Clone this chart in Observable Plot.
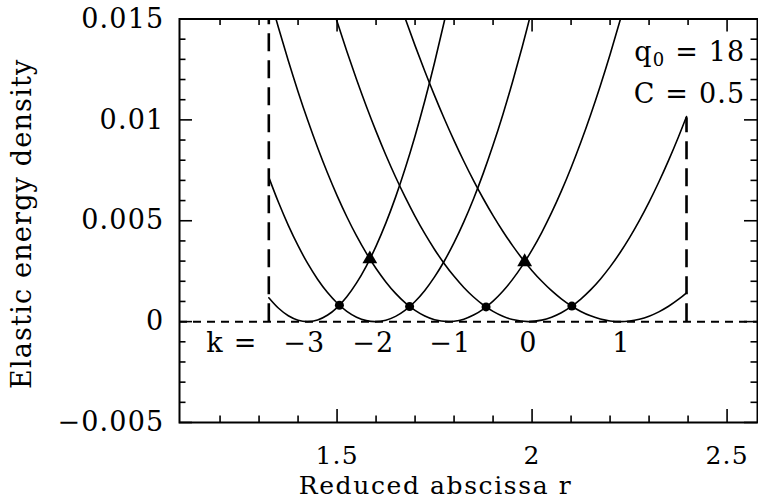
<!DOCTYPE html>
<html><head><meta charset="utf-8">
<script src="https://cdn.jsdelivr.net/npm/d3@7"></script>
<script src="https://cdn.jsdelivr.net/npm/@observablehq/plot@0.6"></script>
<style>
body{margin:0;background:#fff;}
#chart svg text{letter-spacing:1.2px;}
</style></head><body><div id="chart"></div>
<script>
// Energy curves, one per k (r = reduced abscissa, e = elastic energy density)
const rKm3 = [1.325,1.35,1.375,1.40,1.424,1.45,1.475,1.50,1.525,1.55,1.575,1.60,1.625,1.65,1.675,1.70,1.725,1.75,1.775,1.80];
const eKm3 = [0.001184,0.000662,0.000290,0.0000696,0,0.0000817,0.000314,0.000698,0.001233,0.001918,0.002755,0.003743,0.004881,0.006171,0.007612,0.009204,0.010947,0.012841,0.014886,0.01708];
const rKm2 = [1.325,1.35,1.375,1.40,1.425,1.45,1.475,1.50,1.525,1.55,1.575,1.598,1.625,1.65,1.675,1.70,1.725,1.75,1.775,1.80,1.825,1.85,1.875,1.90,1.925,1.95,1.975,2.00];
const eKm2 = [0.007151,0.005901,0.004771,0.003762,0.002871,0.002102,0.001451,0.000922,0.000511,0.000221,0.0000507,0,0.0000700,0.000259,0.000569,0.000998,0.001547,0.002217,0.003006,0.003915,0.004944,0.006093,0.007361,0.008751,0.010259,0.011888,0.013636,0.015504];
const rKm1 = [1.325,1.35,1.375,1.40,1.425,1.45,1.475,1.50,1.525,1.55,1.575,1.60,1.625,1.65,1.675,1.70,1.725,1.75,1.785,1.80,1.825,1.85,1.875,1.90,1.925,1.95,1.975,2.00,2.025,2.05,2.075,2.10,2.125,2.15,2.175,2.20,2.225,2.25];
const eKm1 = [0.01627,0.014550,0.012926,0.011398,0.009965,0.008630,0.007390,0.006245,0.005198,0.004246,0.003391,0.002632,0.001969,0.001401,0.000930,0.000556,0.000277,0.0000942,0,0.0000173,0.000123,0.000325,0.000623,0.001017,0.001507,0.002094,0.002776,0.003555,0.004429,0.005400,0.006466,0.007630,0.008889,0.010244,0.011696,0.013243,0.014887,0.016626];
const rK0 = [1.475,1.50,1.525,1.55,1.575,1.60,1.625,1.65,1.675,1.70,1.725,1.75,1.775,1.80,1.825,1.85,1.875,1.90,1.925,1.95,1.9905,2.025,2.05,2.075,2.10,2.125,2.15,2.175,2.20,2.225,2.25,2.275,2.30,2.325,2.35,2.375,2.396];
const eK0 = [0.016432,0.014877,0.013399,0.011999,0.010675,0.009429,0.008260,0.007169,0.006155,0.005218,0.004359,0.003577,0.002871,0.002244,0.001694,0.001221,0.000825,0.000507,0.000265,0.000101,0,0.0000736,0.000219,0.000441,0.000741,0.001119,0.001573,0.002105,0.002714,0.003400,0.004164,0.005005,0.005923,0.006919,0.007992,0.009142,0.010168];
const rK1 = [1.65,1.675,1.70,1.725,1.75,1.775,1.80,1.825,1.85,1.875,1.90,1.925,1.95,1.975,2.00,2.025,2.05,2.075,2.10,2.125,2.15,2.175,2.20,2.226,2.25,2.275,2.30,2.325,2.35,2.375,2.396];
const eK1 = [0.016404,0.015011,0.013680,0.012411,0.011203,0.010058,0.008972,0.007950,0.006990,0.006091,0.005255,0.004480,0.003767,0.003115,0.002526,0.001998,0.001532,0.001128,0.000785,0.000504,0.000286,0.000129,0.0000334,0,0.0000285,0.000119,0.000271,0.000485,0.000760,0.001098,0.001429];

// Intersection markers
const dotR = [1.506, 1.686, 1.882, 2.102];
const dotE = [0.00081, 0.00075, 0.00073, 0.00077];
const triR = [1.584, 1.981];
const triE = [0.0031, 0.00296];

// Dashed boundaries of the allowed range
const boundaryR = [1.325, 2.396];
const boundaryTop = [0.015, 0.0101];

// k labels
const kText = ["k =", "\u22123", "\u22122", "\u22121", "0", "1"];
const kR = [1.2303, 1.4162, 1.593, 1.7905, 1.9905, 2.229];
const kE = -0.00109;

// Ticks
const xMajor = [1.5, 2, 2.5];
const xMajorLabels = ["1.5", "2", "2.5"];
const xMinor = [1.2, 1.3, 1.4, 1.6, 1.7, 1.8, 1.9, 2.1, 2.2, 2.3, 2.4];
const yMajor = [-0.005, 0, 0.005, 0.01, 0.015];
const yMajorLabels = ["\u22120.005", "0", "0.005", "0.01", "0.015"];
const yMinor = [-0.004,-0.003,-0.002,-0.001,0.001,0.002,0.003,0.004,0.006,0.007,0.008,0.009,0.011,0.012,0.013,0.014];

const curves = [
  {k: -3, r: rKm3, e: eKm3},
  {k: -2, r: rKm2, e: eKm2},
  {k: -1, r: rKm1, e: eKm1},
  {k: 0, r: rK0, e: eK0},
  {k: 1, r: rK1, e: eK1}
];
const rows = curves.flatMap(c => c.r.map((r, i) => ({k: c.k, r, e: c.e[i]})));
const dots = dotR.map((r, i) => ({r, e: dotE[i]}));
const tris = triR.map((r, i) => ({r, e: triE[i]}));
const bounds = boundaryR.map((r, i) => ({r, top: boundaryTop[i]}));
const kLabels = kText.map((t, i) => ({t, r: kR[i], e: kE}));

// layout
const W = 758, H = 500, mL = 179, mR = 1, mT = 18.5, mB = 78;
const fw = W - mL - mR, fh = H - mT - mB;
const majorLen = 13, minorLen = 6.5;

const tickMarks = [
  Plot.ruleX(xMajor, {x: d => d, insetTop: fh - majorLen, strokeWidth: 1.6}),
  Plot.ruleX(xMinor, {x: d => d, insetTop: fh - minorLen, strokeWidth: 1.6}),
  Plot.ruleX(xMajor, {x: d => d, insetBottom: fh - majorLen, strokeWidth: 1.6}),
  Plot.ruleX(xMinor, {x: d => d, insetBottom: fh - minorLen, strokeWidth: 1.6}),
  Plot.ruleY(yMajor, {y: d => d, insetRight: fw - majorLen, strokeWidth: 1.6}),
  Plot.ruleY(yMinor, {y: d => d, insetRight: fw - minorLen, strokeWidth: 1.6}),
  Plot.ruleY(yMajor, {y: d => d, insetLeft: fw - majorLen, strokeWidth: 1.6}),
  Plot.ruleY(yMinor, {y: d => d, insetLeft: fw - minorLen, strokeWidth: 1.6})
];

const chart = Plot.plot({
  width: W, height: H,
  marginLeft: mL, marginRight: mR, marginTop: mT, marginBottom: mB,
  x: {domain: [1.096, 2.578]},
  y: {domain: [-0.005, 0.015]},
  style: {fontFamily: "DejaVu Serif", fontSize: "27px", color: "black", background: "white"},
  marks: [
    Plot.ruleY([0], {strokeDasharray: "8,6", strokeWidth: 2}),
    Plot.ruleX(bounds, {x: "r", y1: () => 0, y2: "top", strokeDasharray: "18,9", strokeWidth: 2.6}),
    Plot.line(rows, {x: "r", y: "e", z: "k", curve: "catmull-rom", stroke: "black", strokeWidth: 1.6, clip: true}),
    Plot.dot(dots, {x: "r", y: "e", r: 4.5, fill: "black"}),
    Plot.dot(tris, {x: "r", y: "e", symbol: "triangle", r: 5.5, fill: "black"}),
    ...tickMarks,
    Plot.axisX({anchor: "bottom", ticks: xMajor, tickSize: 0, tickPadding: 24, fontSize: 25, tickFormat: d => xMajorLabels[xMajor.indexOf(d)], label: null}),
    Plot.axisY({anchor: "left", ticks: yMajor, tickSize: 0, tickPadding: 15, tickFormat: d => yMajorLabels[yMajor.indexOf(d)], label: null}),
    Plot.frame({strokeWidth: 2}),
    Plot.text(["Reduced abscissa r"], {frameAnchor: "bottom", lineAnchor: "middle", textAnchor: "middle", fontSize: 25, dx: -33, dy: 63.5, className: "xtitle"}),
    Plot.text(["Elastic energy density"], {frameAnchor: "left", rotate: -90, textAnchor: "middle", lineAnchor: "middle", dx: -157, dy: 3}),
    Plot.text(["q0 = 18"], {frameAnchor: "top-right", textAnchor: "end", lineAnchor: "middle", dx: -12, dy: 33.5, className: "qlabel"}),
    Plot.text(["C = 0.5"], {frameAnchor: "top-right", textAnchor: "end", lineAnchor: "middle", dx: -12, dy: 75.5}),
    Plot.text(kLabels, {x: "r", y: "e", text: "t"})
  ]
});
document.getElementById("chart").appendChild(chart);
chart.querySelectorAll(".xtitle text").forEach(t => t.style.letterSpacing = "1.6px");

// typeset the subscript of q0
const q = chart.querySelector(".qlabel text");
if (q) {
  const NS = "http://www.w3.org/2000/svg";
  q.textContent = "";
  const parts = [["q", null, null], ["0", "18px", "5"], [" = 18", null, "-5"]];
  for (const [t, fs, dy] of parts) {
    const s = document.createElementNS(NS, "tspan");
    s.textContent = t;
    if (fs) s.setAttribute("font-size", fs);
    if (dy) s.setAttribute("dy", dy);
    q.appendChild(s);
  }
}
</script></body></html>
